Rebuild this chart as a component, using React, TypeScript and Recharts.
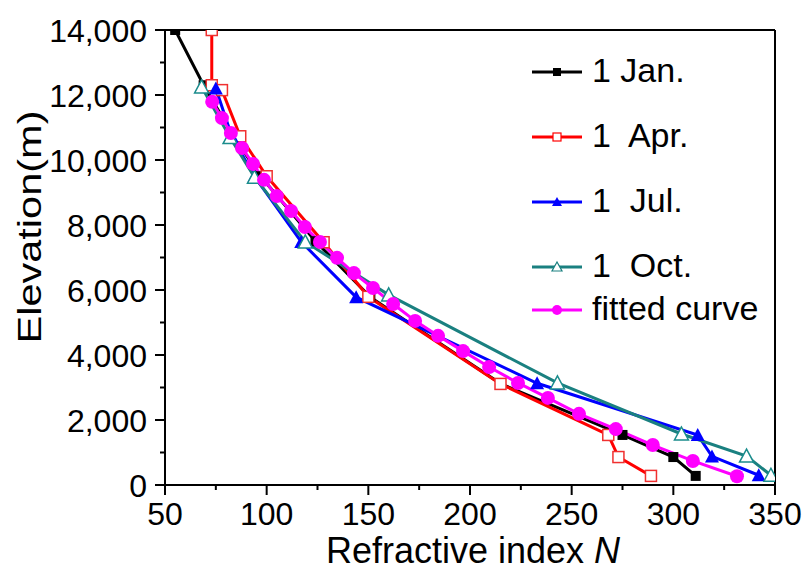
import { LineChart, Line, XAxis, YAxis } from "recharts";

const FONT = "'Liberation Sans', Arial, sans-serif";

// refractive index N (x) against elevation in m (y)
const xTicks = [50, 75, 100, 125, 150, 175, 200, 225, 250, 275, 300, 325, 350];
const yTicks = [0, 1000, 2000, 3000, 4000, 5000, 6000, 7000, 8000, 9000, 10000, 11000, 12000, 13000, 14000];

const janN = [55, 69, 84, 97, 124, 151, 215, 275, 300, 311];
const janH = [14000, 12300, 10700, 9500, 7500, 5780, 3120, 1540, 860, 280];

const aprN = [73, 73, 78, 87, 100, 128, 150, 215, 268, 273, 289];
const aprH = [14000, 12300, 12150, 10730, 9500, 7470, 5790, 3110, 1540, 860, 280];

const julN = [68, 75, 83, 94, 117, 144, 233, 312, 319, 342];
const julH = [12250, 12200, 10700, 9500, 7480, 5780, 3130, 1540, 880, 300];

const octN = [68, 82, 94, 119, 160, 243, 304, 336, 348];
const octH = [12250, 10690, 9470, 7480, 5850, 3140, 1570, 890, 300];

const fitN = [73.2, 78, 82.4, 87.9, 93.3, 98.7, 105, 112, 118.8, 126.2, 134.6, 142.9, 152.3, 162.2, 173, 184.3, 196.6, 209.4, 223.6, 238.3, 253.6, 271.7, 289.9, 309.6, 331.3];
const fitH = [11790, 11290, 10830, 10370, 9880, 9390, 8890, 8430, 7940, 7480, 6990, 6520, 6060, 5570, 5050, 4590, 4120, 3630, 3140, 2680, 2190, 1720, 1230, 740, 270];

const zip = (n: number[], h: number[]) => n.map((v, i) => ({ n: v, h: h[i] }));

type DotProps = { cx?: number; cy?: number; index?: number };

const FilledSquare = ({ cx = 0, cy = 0, index }: DotProps) => (
  <rect key={index} x={cx - 5} y={cy - 5} width={10} height={10} fill="#000" />
);
const OpenSquare = ({ cx = 0, cy = 0, index }: DotProps) => (
  <rect key={index} x={cx - 5.5} y={cy - 5.5} width={11} height={11} fill="#fff" stroke="#f03030" strokeWidth={1.5} />
);
const FilledTriangle = ({ cx = 0, cy = 0, index }: DotProps) => (
  <polygon key={index} points={`${cx},${cy - 7} ${cx - 7},${cy + 6} ${cx + 7},${cy + 6}`} fill="#0000ff" />
);
const OpenTriangle = ({ cx = 0, cy = 0, index }: DotProps) => (
  <polygon key={index} points={`${cx},${cy - 7} ${cx - 7},${cy + 6} ${cx + 7},${cy + 6}`} fill="#fff" stroke="#1a8c8c" strokeWidth={1.5} />
);
const Circle = ({ cx = 0, cy = 0, index }: DotProps) => (
  <circle key={index} cx={cx} cy={cy} r={7} fill="#ff00ff" />
);

function XTick({ x, y, payload }: any) {
  const major = payload.value % 50 === 0;
  return (
    <g>
      <line x1={x} x2={x} y1={y} y2={y + (major ? 10 : 5)} stroke="#000" strokeWidth={2} />
      {major && (
        <text x={x} y={y + 40} textAnchor="middle" fontSize={32} fontFamily={FONT} fill="#000">
          {payload.value}
        </text>
      )}
    </g>
  );
}

function YTick({ x, y, payload }: any) {
  const major = payload.value % 2000 === 0;
  return (
    <g>
      <line x1={x - (major ? 10 : 5)} x2={x} y1={y} y2={y} stroke="#000" strokeWidth={2} />
      {major && (
        <text x={x - 18} y={y + 11.5} textAnchor="end" fontSize={32} fontFamily={FONT} fill="#000">
          {payload.value.toLocaleString("en-US")}
        </text>
      )}
    </g>
  );
}

const XTitle = () => (
  <text x={473} y={563} textAnchor="middle" fontSize={36} fontFamily={FONT} fill="#000">
    Refractive index <tspan fontStyle="italic">N</tspan>
  </text>
);

const YTitle = () => (
  <text
    x={0}
    y={0}
    transform="translate(41,227) rotate(-90)"
    textAnchor="middle"
    fontSize={34}
    fontFamily={FONT}
    fill="#000"
    textLength={233}
    lengthAdjust="spacingAndGlyphs"
  >
    Elevation(m)
  </text>
);

const legendItems = [
  { name: "1 Jan.", color: "#000", y: 32, mark: "fsq" },
  { name: "1  Apr.", color: "#ff0000", y: 97, mark: "osq" },
  { name: "1  Jul.", color: "#0000ff", y: 162, mark: "ftri" },
  { name: "1  Oct.", color: "#1a8080", y: 227, mark: "otri" },
  { name: "fitted curve", color: "#ff00ff", y: 270, mark: "circ" },
];

function LegendMark({ mark, color, y }: { mark: string; color: string; y: number }) {
  const cx = 37;
  if (mark === "fsq") return <rect x={cx - 4} y={y - 4} width={8} height={8} fill={color} />;
  if (mark === "osq") return <rect x={cx - 4} y={y - 4} width={8} height={8} fill="#fff" stroke={color} strokeWidth={1.2} />;
  if (mark === "ftri") return <polygon points={`${cx},${y - 5} ${cx - 5},${y + 4} ${cx + 5},${y + 4}`} fill={color} />;
  if (mark === "otri") return <polygon points={`${cx},${y - 5} ${cx - 5},${y + 4} ${cx + 5},${y + 4}`} fill="#fff" stroke={color} strokeWidth={1.2} />;
  return <circle cx={cx} cy={y} r={5} fill={color} />;
}

const LegendBox = () => (
  <svg width={270} height={300} style={{ position: "absolute", left: 520, top: 40 }}>
    {legendItems.map((it) => (
      <g key={it.name}>
        <line x1={12} x2={62} y1={it.y} y2={it.y} stroke={it.color} strokeWidth={3} />
        <LegendMark mark={it.mark} color={it.color} y={it.y} />
        <text x={72} y={it.y + 10} fontSize={34} fontFamily={FONT} fill="#000" style={{ whiteSpace: "pre" }}>
          {it.name}
        </text>
      </g>
    ))}
  </svg>
);

export default function App() {
  return (
    <div style={{ position: "absolute", left: 0, top: 0, width: 805, height: 570, background: "#fff" }}>
      <LineChart width={805} height={570} margin={{ top: 29, right: 29, bottom: 84, left: 164 }}>
        <XAxis
          dataKey="n"
          type="number"
          domain={[50, 350]}
          ticks={xTicks}
          interval={0}
          height={1}
          tickSize={0}
          tickMargin={0}
          tickLine={false}
          tick={<XTick />}
          axisLine={{ stroke: "#000", strokeWidth: 2 }}
          allowDataOverflow
          label={<XTitle />}
        />
        <XAxis
          xAxisId="top"
          orientation="top"
          type="number"
          domain={[50, 350]}
          height={1}
          tick={false}
          tickLine={false}
          axisLine={{ stroke: "#000", strokeWidth: 2 }}
        />
        <YAxis
          dataKey="h"
          type="number"
          domain={[0, 14000]}
          ticks={yTicks}
          interval={0}
          width={1}
          tickSize={0}
          tickMargin={0}
          tickLine={false}
          tick={<YTick />}
          axisLine={{ stroke: "#000", strokeWidth: 2 }}
          allowDataOverflow
          label={<YTitle />}
        />
        <YAxis
          yAxisId="right"
          orientation="right"
          type="number"
          domain={[0, 14000]}
          width={1}
          tick={false}
          tickLine={false}
          axisLine={{ stroke: "#000", strokeWidth: 2 }}
        />
        <Line data={zip(janN, janH)} dataKey="h" name="1 Jan." stroke="#000" strokeWidth={3} dot={FilledSquare} isAnimationActive={false} />
        <Line data={zip(aprN, aprH)} dataKey="h" name="1  Apr." stroke="#ff0000" strokeWidth={3} dot={OpenSquare} isAnimationActive={false} />
        <Line data={zip(julN, julH)} dataKey="h" name="1  Jul." stroke="#0000ff" strokeWidth={3} dot={FilledTriangle} isAnimationActive={false} />
        <Line data={zip(octN, octH)} dataKey="h" name="1  Oct." stroke="#1a8080" strokeWidth={3} dot={OpenTriangle} isAnimationActive={false} />
        <Line data={zip(fitN, fitH)} dataKey="h" name="fitted curve" stroke="#ff00ff" strokeWidth={3} dot={Circle} isAnimationActive={false} />
      </LineChart>
      <LegendBox />
    </div>
  );
}
